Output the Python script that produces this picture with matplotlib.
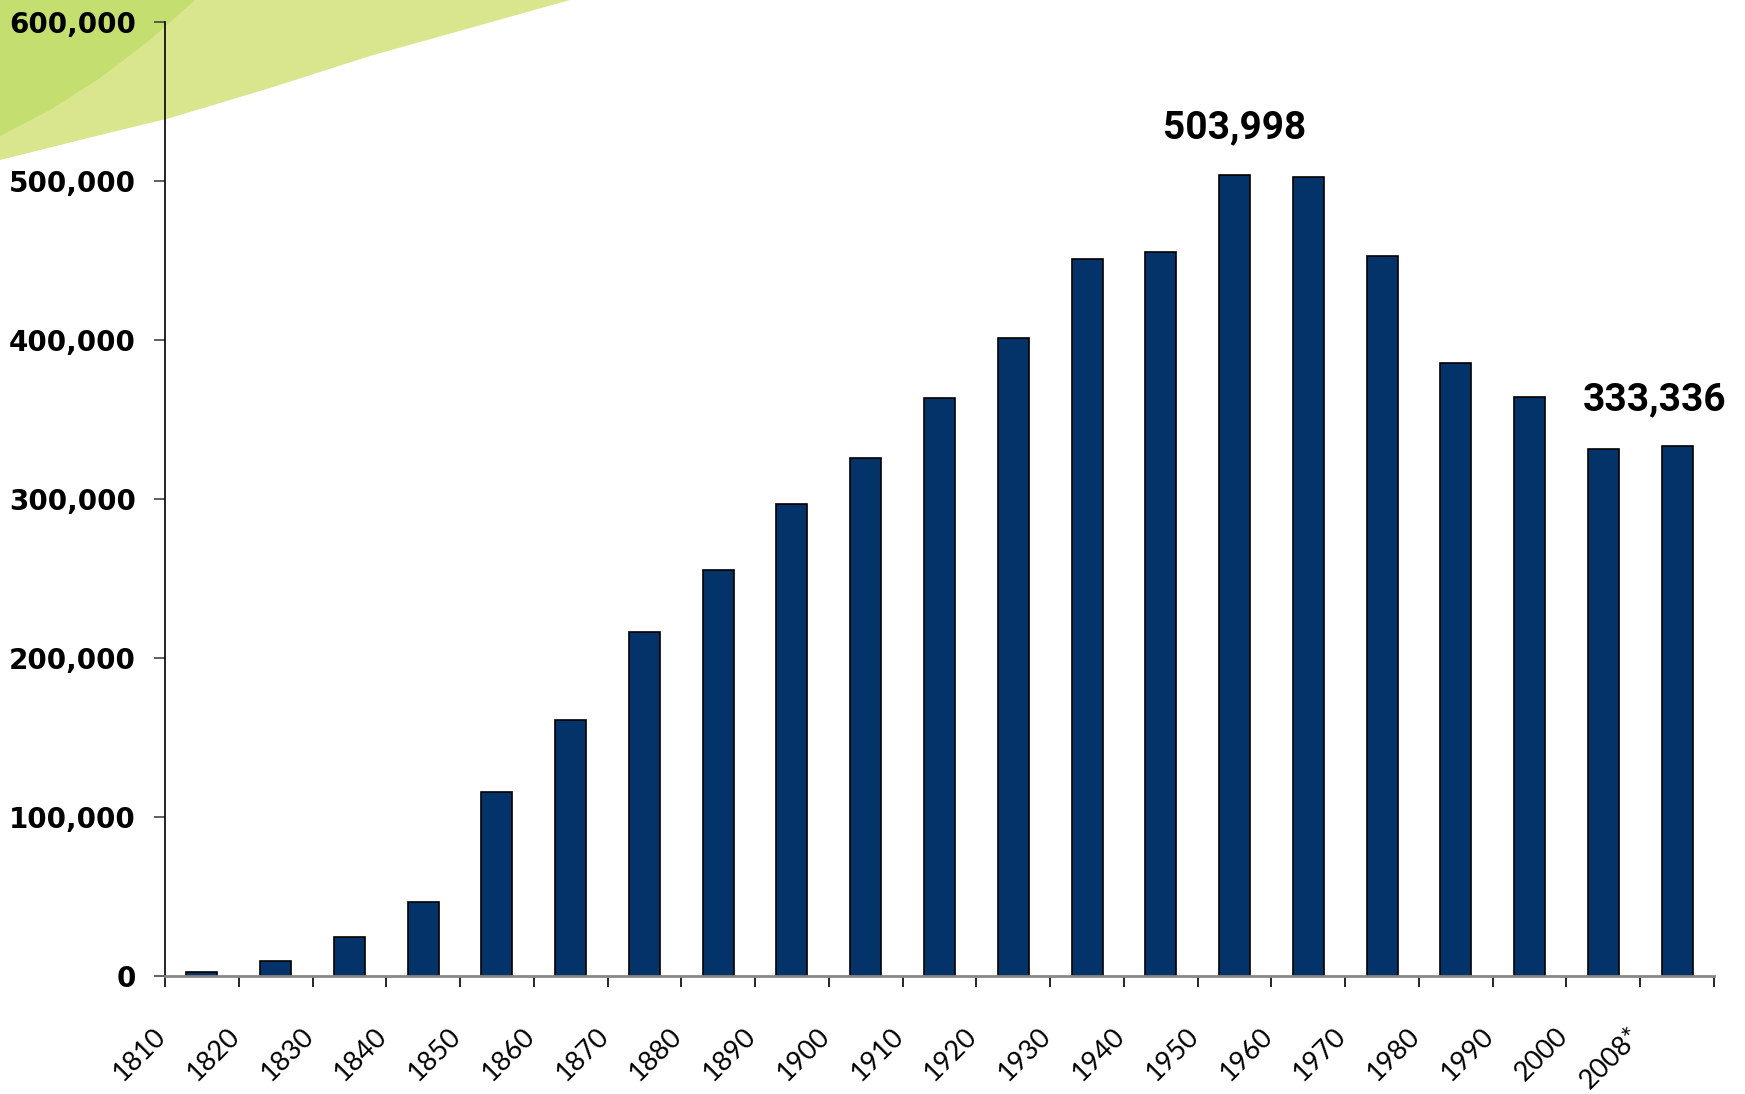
import matplotlib
matplotlib.use("Agg")
import matplotlib.pyplot as plt
from matplotlib.patches import Polygon
from matplotlib.ticker import FuncFormatter

# census years and population
years = ["1810", "1820", "1830", "1840", "1850", "1860", "1870", "1880", "1890",
         "1900", "1910", "1920", "1930", "1940", "1950", "1960", "1970", "1980",
         "1990", "2000", "2008*"]
population = [2540, 9642, 24831, 46338, 115435, 161044, 216239, 255139, 296908,
              325902, 363591, 401247, 451160, 455610, 503998, 502550, 452524,
              385457, 364040, 331285, 333336]
callouts = {"1950": "503,998", "2008*": "333,336"}

W, H = 1745, 1094
fig = plt.figure(figsize=(W / 100, H / 100), dpi=100)


def px(pts):
    return [(x / W, 1 - y / H) for x, y in pts]


# green swoosh in the top left corner
light = [(0, 0), (570, 0), (470, 28), (370, 56), (270, 88), (170, 118),
         (80, 140), (0, 160)]
dark = [(0, 0), (195, 0), (150, 40), (100, 78), (50, 110), (0, 136)]
fig.add_artist(Polygon(px(light), closed=True, transform=fig.transFigure,
                       facecolor="#d9e68d", edgecolor="none", zorder=-5))
fig.add_artist(Polygon(px(dark), closed=True, transform=fig.transFigure,
                       facecolor="#c4de6f", edgecolor="none", zorder=-4))

ax = fig.add_axes([165 / W, 1 - 976 / H, (1714 - 165) / W, (976 - 22) / H])
ax.set_facecolor("none")

x = list(range(len(years)))
ax.bar(x, population, width=0.42, color="#04336a", edgecolor="black", linewidth=1.2)

ax.set_xlim(-0.5, len(years) - 0.5)
ax.set_ylim(0, 600000)

ax.set_yticks(range(0, 600001, 100000))
ax.yaxis.set_major_formatter(FuncFormatter(lambda v, p: f"{int(v):,}"))
for lab in ax.get_yticklabels():
    lab.set_fontfamily("DejaVu Sans")
    lab.set_fontweight("bold")
    lab.set_fontsize(20)
ax.tick_params(axis="y", length=8, width=1.2, color="#444444", pad=13)

# boundary ticks, labels slightly right of each boundary
ax.set_xticks([i - 0.5 for i in range(len(years) + 1)])
ax.set_xticklabels([])
ax.tick_params(axis="x", which="major", length=8, width=1.2, color="black")
ax.set_xticks([i - 0.42 for i in x], minor=True)
ax.set_xticklabels(years, minor=True, rotation=45, ha="right",
                   fontfamily="Lato", fontsize=19.5)
ax.tick_params(axis="x", which="minor", length=0, pad=34)

for s in ["top", "right"]:
    ax.spines[s].set_visible(False)
ax.spines["left"].set_linewidth(1.2)
ax.spines["bottom"].set_color("#888888")
ax.spines["bottom"].set_linewidth(2)

for yr, txt in callouts.items():
    i = years.index(yr)
    dx = -16 if yr == "2008*" else 0
    ax.annotate(txt, xy=(i, population[i]), xytext=(dx, 26),
                textcoords="offset points", ha="center", va="baseline",
                fontfamily="Roboto", fontweight="bold", fontsize=28,
                annotation_clip=False)

fig.savefig("out.png", dpi=100)
